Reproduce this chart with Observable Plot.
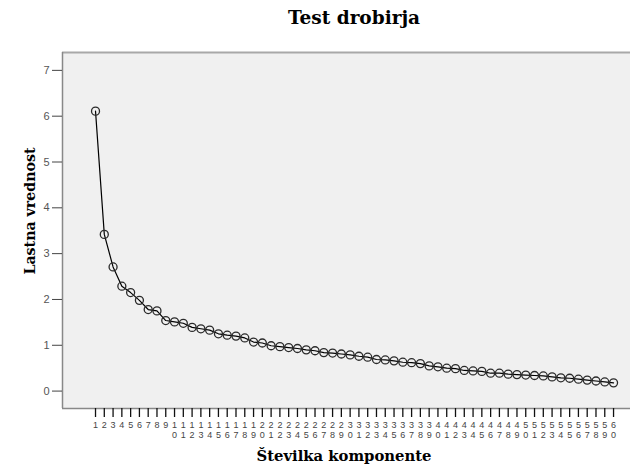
<!DOCTYPE html>
<html>
<head>
<meta charset="utf-8">
<script src="https://cdn.jsdelivr.net/npm/d3@7"></script>
<script src="https://cdn.jsdelivr.net/npm/@observablehq/plot@0.6"></script>
<style>
  html, body { margin: 0; padding: 0; background: #fff; overflow: hidden; width: 630px; }
  #chart { width: 630px; overflow: hidden; }
  #chart svg { display: block; max-width: none !important; }
</style>
</head>
<body>
<div id="chart"></div>
<script>
const title = "Test drobirja";
const xLabel = "Številka komponente";
const yLabel = "Lastna vrednost";

const components = d3.range(1, 61);
const eigenvalues = [
  6.11, 3.42, 2.71, 2.29, 2.15, 1.98, 1.78, 1.75, 1.54, 1.51,
  1.48, 1.39, 1.36, 1.33, 1.25, 1.22, 1.20, 1.16, 1.07, 1.05,
  0.99, 0.97, 0.95, 0.93, 0.90, 0.88, 0.84, 0.83, 0.81, 0.79,
  0.76, 0.74, 0.69, 0.68, 0.66, 0.63, 0.62, 0.60, 0.55, 0.53,
  0.50, 0.49, 0.45, 0.44, 0.43, 0.39, 0.39, 0.37, 0.36, 0.35,
  0.34, 0.33, 0.31, 0.29, 0.28, 0.26, 0.24, 0.22, 0.20, 0.18
];
const yTicks = [0, 1, 2, 3, 4, 5, 6, 7];
const xDomain = [-2.76, 63.07];
const yDomain = [-0.38, 7.39];

const data = components.map((c, i) => ({component: c, value: eigenvalues[i]}));

const fmtX = d => d < 10 ? String(d) : `${Math.floor(d / 10)}\n${d % 10}`;

const plot = Plot.plot({
  width: 640,
  height: 468,
  marginLeft: 62,
  marginRight: 0,
  marginTop: 52,
  marginBottom: 60,
  style: {fontFamily: "Liberation Sans, Arial, sans-serif", background: "#fff"},
  x: {domain: xDomain},
  y: {domain: yDomain},
  marks: [
    Plot.frame({fill: "#f0f0f0", stroke: "none"}),
    Plot.ruleY([yDomain[1]], {stroke: "#a8a8a8", strokeWidth: 2}),
    Plot.ruleX([xDomain[0]], {stroke: "#888", strokeWidth: 1.5}),
    Plot.ruleY([yDomain[0]], {stroke: "#888", strokeWidth: 1.5}),
    Plot.axisY({ticks: yTicks, tickSize: 10, tickPadding: 3, fontSize: 11, color: "#555", stroke: "#444", label: null}),
    Plot.axisX({ticks: components, tickSize: 9, tickPadding: 3, fontSize: 9, lineHeight: 1.12, color: "#444", stroke: "#111", strokeWidth: 1.3, tickFormat: fmtX, label: null}),
    Plot.line(data, {x: "component", y: "value", stroke: "#000", strokeWidth: 1.2}),
    Plot.dot(data, {x: "component", y: "value", r: 4, stroke: "#2a2a2a", strokeWidth: 1.3, fill: "none"})
  ]
});

const svg = d3.select(plot);
svg.append("text")
  .attr("x", 354).attr("y", 24)
  .attr("text-anchor", "middle")
  .attr("font-family", "DejaVu Serif")
  .attr("font-weight", "bold")
  .attr("font-size", 18.5)
  .attr("fill", "#000")
  .text(title);
svg.append("text")
  .attr("x", 344).attr("y", 461)
  .attr("text-anchor", "middle")
  .attr("font-family", "DejaVu Serif")
  .attr("font-weight", "bold")
  .attr("font-size", 14.8)
  .attr("fill", "#000")
  .text(xLabel);
svg.append("text")
  .attr("transform", "translate(35,211) rotate(-90)")
  .attr("text-anchor", "middle")
  .attr("font-family", "DejaVu Serif")
  .attr("font-weight", "bold")
  .attr("font-size", 14.2)
  .attr("fill", "#000")
  .text(yLabel);

document.getElementById("chart").appendChild(plot);
</script>
</body>
</html>
